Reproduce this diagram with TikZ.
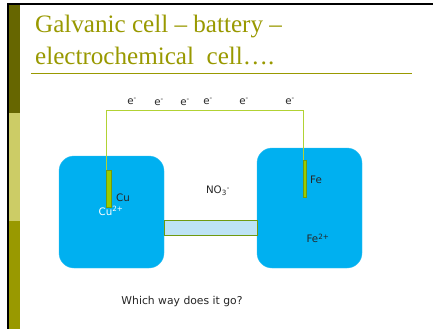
\documentclass[tikz,border=0pt]{standalone}
\usepackage{fontspec}
\setmainfont{DejaVu Sans}
\newfontfamily\titlefont{Liberation Serif}
\usepackage{xcolor}
\definecolor{barDark}{HTML}{666600}
\definecolor{barLight}{HTML}{CCCC66}
\definecolor{barOlive}{HTML}{999900}
\definecolor{cellBlue}{HTML}{00B0F0}
\definecolor{wireGreen}{HTML}{B2D234}
\definecolor{rodGreen}{HTML}{99CC00}
\definecolor{rodEdge}{HTML}{6F9A10}
\definecolor{bridgeBlue}{HTML}{BDE3F5}
\tikzset{
  cellbox/.style={draw=cellBlue!80!white, fill=cellBlue, rounded corners=15pt, minimum width=105pt, inner sep=0pt},
  rodbox/.style={draw=rodEdge, fill=rodGreen, line width=1pt, inner sep=0pt},
  lab/.style={font=\fontsize{10.3}{12}\selectfont, text=black!85, inner sep=0pt},
  titleline/.style={font=\titlefont\fontsize{25.1}{30}\selectfont, text=barOlive, inner sep=0pt, anchor=base west},
}
\begin{document}
\begin{tikzpicture}[x=1pt, y=-1pt]
  \useasboundingbox (0,0) rectangle (433,329);
  \fill[white] (0,0) rectangle (433,329);
  % Slide frame and side bars
  \fill[black] (7,3) rectangle (433,5);
  \fill[black] (7,3) rectangle (9,329);
  \fill[barDark]  (9,5)   rectangle (20,113);
  \fill[barLight] (9,113) rectangle (20,221);
  \fill[barOlive] (9,221) rectangle (20,329);
  % Title
  \node[titleline] (title1) at (35,33) {Galvanic cell – battery –};
  \node[titleline] (title2) at (35,64) {electrochemical\ \ cell….};
  \draw[barOlive, line width=0.7pt] (31,73.5) -- (412,73.5);
  % Cells and salt bridge
  \node[cellbox, minimum height=112pt] (cellCu) at (111.5,212) {};
  \node[cellbox, minimum height=120pt] (cellFe) at (309.5,208) {};
  \node[draw=rodEdge, fill=bridgeBlue, line width=0.8pt, minimum width=93pt, minimum height=14.5pt, inner sep=0pt] (bridge) at (210.5,228) {};
  % Wire
  \coordinate (wiretop) at (200,110.5);
  \coordinate (wirestart) at (106.5,170);
  \coordinate (wireend) at (303.5,182);
  \draw[wireGreen, line width=1.3pt] (wirestart) |- (wiretop) -| (wireend);
  % Electrodes
  \node[rodbox, minimum width=5pt, minimum height=37pt] (rodCu) at (108.7,188.5) {};
  \node[rodbox, minimum width=3.5pt, minimum height=37pt] (rodFe) at (305,178.5) {};
  % Electrons
  \foreach \name/\px/\py in {a/132/101.5, b/159/102.5, c/185/102.5, d/208/101.5, e/244/101.5, f/290/101.5}
    \node[lab] (elec\name) at (\px,\py) {e\textsuperscript{-}};
  % Labels
  \node[lab] (labCu) at (123,198) {Cu};
  \node[lab, text=white] (labCuIon) at (111,211) {Cu\textsuperscript{2+}};
  \node[lab] (labFe) at (316,180) {Fe};
  \node[lab] (labFeIon) at (318,238.5) {Fe\textsuperscript{2+}};
  \node[lab] (labNO) at (218,191) {NO\textsubscript{3}\textsuperscript{-}};
  \node[lab, font=\fontsize{10.8}{12}\selectfont] (question) at (182,302) {Which way does it go?};
\end{tikzpicture}
\end{document}
